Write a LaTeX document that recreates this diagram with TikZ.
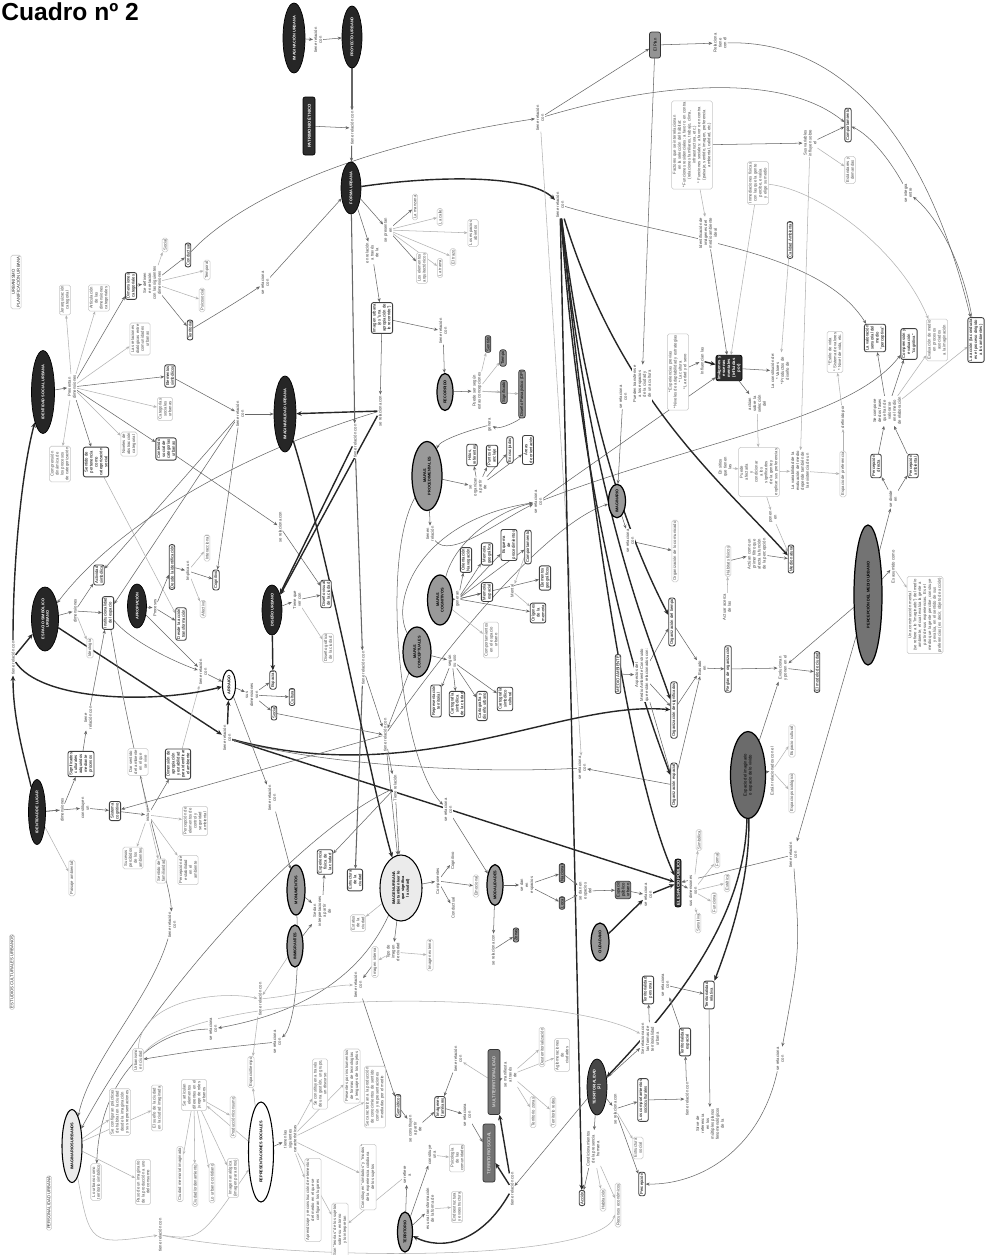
\documentclass[tikz,border=0pt]{standalone}
\usepackage{fontspec}
\setmainfont{Liberation Sans}
\usetikzlibrary{shapes.geometric,arrows.meta,backgrounds}
\newcommand{\mf}{\fontsize{2.4}{2.8}\selectfont}
\tikzset{
  mb/.style={rotate=90,align=center,inner sep=0.7pt,font=\mf},
  sz/.style 2 args={minimum height=#1*0.02cm,minimum width=#2*0.02cm},
  dk/.style={mb,ellipse,draw=black,fill=black!85,text=white,inner sep=0pt,font=\fontsize{2.2}{2.6}\selectfont\bfseries},
  gy/.style={mb,ellipse,draw=black,line width=0.7pt,fill=black!40,inner sep=0pt,font=\fontsize{2.2}{2.6}\selectfont\bfseries},
  wt/.style={mb,ellipse,draw=black,line width=0.6pt,fill=white,inner sep=0pt,font=\fontsize{2.2}{2.6}\selectfont\bfseries},
  bx/.style={mb,rectangle,rounded corners=1.2pt,draw=black!75,line width=0.5pt,fill=white},
  lb/.style={mb,rectangle,rounded corners=1pt,draw=black!22,line width=0.3pt,fill=white,text=black!70},
  gb/.style={mb,rectangle,rounded corners=1.2pt,draw=black!80,line width=0.4pt,fill=black!42},
  db/.style={mb,rectangle,rounded corners=1.2pt,draw=black,fill=black!82,text=white,font=\mf\bfseries},
  tx/.style={mb,fill=white,text=black!75,inner sep=0.4pt},
  ln/.style={draw=black!60,line width=0.3pt,-{Stealth[length=2.2pt,width=1.8pt]}},
  lt/.style={draw=black!30,line width=0.3pt,-{Stealth[length=2pt,width=1.6pt]}},
  hv/.style={draw=black!85,line width=0.8pt,-{Stealth[length=3pt,width=2.6pt]}}
}
\begin{document}
\begin{tikzpicture}[x=0.02cm,y=-0.02cm]
\useasboundingbox (0,0) rectangle (992,1255);
\node[anchor=north west,inner sep=0pt,font=\fontsize{14}{14}\selectfont\bfseries] (tit) at (1,2) {Cuadro nº 2};

% marcos
\node[lb,text=black!85] (urb) at (16,282) {URBANISMO\\PLANIFICACIÓN URBANA};
\node[lb,text=black!85] (ecu) at (12,972) {ESTUDIOS CULTURALES URBANOS};
\node[lb,text=black!85] (peu) at (49,1203) {PERSONALIDAD URBANA};

% parte superior
\node[dk,sz={22}{70}] (imu) at (294,38) {IMAGINACIÓN URBANA};
\node[tx] (t01) at (318,40) {tiene relación\\con};
\node[dk,sz={20}{62}] (pu) at (352,37) {PROYECTO URBANO};
\node[db,sz={12}{58}] (pe) at (309,126) {PATRIMONIO ÉTNICO};
\node[tx] (t02) at (352,128) {tiene relación con};
\node[dk,sz={20}{52}] (fu) at (351,188) {FORMA URBANA};
\node[tx] (t03) at (388,230) {se presentan\\en};
\node[lb] (fu1) at (415,207) {La manzana};
\node[lb] (fu2) at (440,217) {La calle};
\node[lb] (fu3) at (473,233) {Los espacios\\abiertos};
\node[lb] (fu4) at (453,257) {El trazo};
\node[lb] (fu5) at (440,268) {La trama};
\node[lb] (fu6) at (422,268) {Los elementos\\arquitectónicos};
\node[tx] (t04) at (372,253) {en relación\\a través\\de la};
\node[bx] (imgu) at (382,318) {Imagen urbana\\(es "una\\apropiación de\\lo recorrido")};
\node[tx] (t05) at (540,118) {tiene relación\\con};
\node[tx] (t06) at (560,205) {tiene relación\\con};
\node[gb,sz={11}{26}] (plan) at (655,45) {El Plan};
\node[tx] (t76) at (720,43) {Relaciona\\tiene\\con él};

% identidad social urbana
\node[dk,sz={23}{83}] (isu) at (43,392) {IDENTIDAD SOCIAL URBANA};
\node[tx] (t10) at (72,387) {Presentan\\dimensiones};
\node[lb] (is1) at (60,464) {Comprensión\\dinámica de\\los procesos\\de categorización};
\node[bx] (is2) at (96,462) {Sentido de\\pertenencia\\como\\categorización\\social};
\node[lb] (is3) at (129,444) {Niveles de\\abstracción\\categorial};
\node[bx] (is4) at (166,449) {Contenido\\social de\\categorías\\urbanas};
\node[lb] (is5) at (165,409) {Categorías\\sociales\\urbanas};
\node[bx] (is6) at (170,376) {Elementos\\simbólicos};
\node[lb] (is7) at (140,339) {Las relaciones\\dialógicas entre\\comunidades\\urbanas};
\node[bx] (is8) at (131,286) {Dimensiones\\categoriales};
\node[lb] (is9) at (99,298) {Articulación\\de las\\dimensiones\\categoriales};
\node[lb] (is10) at (65,300) {Jerarquización\\categorial};
\node[tx] (t11) at (152,283) {Se definen\\en relación\\con las siguientes\\dimensiones};
\node[lb] (dc1) at (165,245) {Social};
\node[bx] (dc2) at (188,255) {Conductual};
\node[lb] (dc3) at (207,270) {Temporal};
\node[lb] (dc4) at (202,300) {Psicosocial};
\node[bx] (dc5) at (190,330) {Territorial};
\node[tx] (t12) at (265,283) {se relaciona\\con};
\node[tx] (t13) at (240,414) {tiene relación\\con};
\node[dk,sz={22}{76}] (imb) at (285,414) {IMAGINABILIDAD URBANA};
\node[tx] (t14) at (280,527) {se relaciona con};

% espacio simbolico, apropiacion, diseño
\node[dk,sz={27}{64}] (esu) at (45,619) {ESPACIO SIMBÓLICO\\URBANO};
\node[tx] (t20) at (75,611) {dimensiones};
\node[bx] (es1) at (99,575) {Actividad\\simbólica};
\node[bx] (es2) at (108,613) {Institucionalidad\\del espacio};
\node[lb] (es3) at (90,648) {Ideología};
\node[dk,sz={19}{44}] (ap) at (137,606) {APROPIACIÓN};
\node[tx] (t22) at (155,608) {Procesos};
\node[bx] (ap1) at (172,567) {Desde la identificación};
\node[bx] (ap2) at (181,624) {Desde la acción\\transformación};
\node[tx] (t23) at (188,571) {Implica un};
\node[lb] (ap3) at (207,548) {Interaccional};
\node[bx] (ap4) at (216,580) {Cognitivo};
\node[lb] (ap5) at (203,609) {Afectivo};
\node[dk,sz={20}{50}] (du) at (272,610) {DISEÑO URBANO};
\node[tx] (t24) at (297,600) {Tiene que\\ver con};
\node[bx] (du1) at (326,594) {Diseño visual\\de la ciudad};
\node[lb] (du2) at (328,648) {Diseño gráfico\\de la ciudad};

% arraigo
\node[wt,sz={13}{30}] (arr) at (229,685) {ARRAIGO};
\node[tx] (t25) at (203,672) {tiene relación\\con};
\node[tx] (t26) at (252,695) {sus\\dimensiones\\son};
\node[bx] (ar1) at (273,680) {Espacial};
\node[bx] (ar2) at (292,697) {Cultural};
\node[bx] (ar3) at (274,713) {Social};
\node[tx] (t27) at (227,738) {tiene relación\\con};

% identidad de lugar
\node[dk,sz={17}{65}] (idl) at (37,812) {IDENTIDAD DE LUGAR};
\node[tx] (t30) at (62,810) {dimensiones};
\node[bx] (id1) at (81,764) {Significados\\culturales\\adquiridos\\mediante\\procesos};
\node[tx] (t31) at (88,718) {tiene\\relación con};
\node[tx] (t32) at (85,808) {constituyen\\un};
\node[bx] (id2) at (115,811) {Sistema\\cognitivo};
\node[lb] (id3) at (72,878) {Paisaje ambiental};
\node[tx] (t33) at (148,815) {incluye};
\node[lb] (id4) at (138,762) {Dar sentido\\del ambiente\\en el que\\se vive};
\node[bx] (id5) at (178,764) {Dimensión de\\apropiación\\y estabilidad\\para identificar\\el ambiente};
\node[lb] (id6) at (195,821) {Percepción de\\elementos de\\control y\\seguridad\\ambiental};
\node[lb] (id7) at (188,870) {Percepción de\\estabilidad\\en el\\ambiente};
\node[lb] (id8) at (161,871) {Sentido de\\familiaridad};
\node[lb] (id9) at (133,858) {Sucesos\\percibidos\\de los\\ambientes};
\node[tx] (t34) at (13,658) {tiene relación con};

% nudos centrales
\node[tx] (t40) at (385,735) {tiene relación con};
\node[tx] (t41) at (395,788) {Tiene relación};
\node[tx] (t42) at (448,810) {se relaciona\\con};
\node[tx] (t43) at (355,441) {tiene relación con};
\node[tx] (t44) at (380,411) {se relaciona con};
\node[tx] (t45) at (443,331) {tiene relación\\con};
\node[tx] (t46) at (272,798) {tiene relación\\con};
\node[tx] (t47) at (363,668) {tiene relación con};
\node[tx] (t86) at (582,768) {se relaciona\\con};

% recorrido y mapas
\node[gy,sz={16}{37}] (rec) at (445,392) {RECORRIDO};
\node[tx] (t50) at (477,391) {Puede ser según\\estas concepciones};
\node[gb] (rc1) at (488,344) {Sentido};
\node[gb] (rc2) at (503,358) {Tiempo};
\node[gb] (rc3) at (504,392) {Significado};
\node[gb] (rc4) at (522,394) {Diseño Paisajístico (DP)};
\node[tx] (t51) at (490,425) {genera};
\node[gy,sz={30}{69}] (mp) at (427,476) {MAPAS\\PROCEDIMENTALES};
\node[tx] (t52) at (478,487) {se\\organizan\\a partir\\de};
\node[bx] (mp1) at (472,455) {Hitos,\\referentes};
\node[bx] (mp2) at (492,456) {Puntos de\\anclaje};
\node[bx] (mp3) at (510,450) {Encrucijadas};
\node[bx] (mp4) at (528,450) {Áreas\\de orientación};
\node[tx] (t53) at (430,534) {tienen\\relación};
\node[tx] (t54) at (538,502) {se relaciona\\con};
\node[gy,sz={25}{50}] (mcg) at (440,600) {MAPAS\\COGNITIVOS};
\node[tx] (t55) at (458,599) {generan};
\node[bx] (mc1) at (466,560) {Orientación\\Navegación};
\node[bx] (mc2) at (487,554) {Memoria\\geográfica};
\node[bx] (mc3) at (487,592) {Memoria\\espacial};
\node[bx] (mc4) at (509,545) {Esquema\\de\\procedimientos};
\node[bx] (mc5) at (528,547) {Comportamiento};
\node[bx] (mc6) at (545,578) {Elementos\\geográficos};
\node[bx] (mc7) at (538,613) {Orígenes\\de la\\memoria};
\node[tx] (t56) at (512,591) {Mental};
\node[lb] (cmp) at (491,640) {Comportamientos\\en el espacio\\urbano};
\node[gy,sz={28}{50}] (mk) at (417,652) {MAPAS\\CONCEPTUALES};
\node[tx] (t57) at (452,661) {según\\su uso};
\node[bx] (mk1) at (436,701) {Representación\\territorial};
\node[bx] (mk2) at (457,704) {Cartografía\\simbólica\\de la ciudad};
\node[bx] (mk3) at (482,706) {Cartografía y\\diseño urbano};
\node[bx] (mk4) at (505,699) {Cartografía\\simbólico\\cultural};

% derecha centro
\node[gy,sz={17}{32}] (espa) at (617,501) {IMAGINARIO};
\node[tx] (t58) at (623,397) {se relaciona\\con};
\node[tx] (t59) at (642,384) {Pueden transferirse\\a los espacios\\de la ciudad y\\de una cultura};
\node[tx] (t60) at (630,541) {se relaciona\\con};
\node[lb] (exp) at (678,372) {* Experiencias previas\\* Niveles de adaptabilidad y estrategias\\* La cultura\\* La edad y el sexo};
\node[db] (img) at (729,368) {Imágenes y\\escenas\\mentales\\(influidas\\por)};
\node[tx] (t61) at (702,361) {Influencian las};
\node[tx] (t62) at (780,371) {La constitución de:\\* Valores\\* Productos de\\diseño de};
\node[tx] (t63) at (757,404) {actúan\\sobre la\\selección\\del};
\node[tx] (t64) at (725,467) {En sitios\\que tienen\\las};
\node[lb] (pua) at (759,472) {Puede\\afectarla\\y\\condicionar\\a los\\significados\\de la gente y\\explicar sus preferencias};
\node[tx] (t65) at (800,471) {La variabilidad de la\\evaluación del medio\\depende también de\\la existencia de un};
\node[lb] (pref) at (843,474) {Espacio de preferencia};
\node[tx] (t66) at (843,417) {definido por};
\node[lb] (evi) at (835,352) {* Estilo de vida\\* Sistema de valores\\* Nivel de vida, etc.};
\node[bx] (vs) at (875,338) {La valoración\\sensorial del\\medio\\"perceptiva"};
\node[bx] (ce) at (909,344) {Comprensión y\\evaluación\\"cognitiva"};
\node[lb] (em) at (937,340) {Evaluación de medio\\en procesos\\asociados\\a la imaginación};
\node[bx] (la) at (976,340) {La acción (la conducta\\es el proceso dirigido\\a los ambientes)};
\node[tx] (t67) at (887,411) {Se compone\\de dos fases\\que han de\\valorarse\\en el medio\\de elaboración};
\node[bx] (pd) at (876,466) {Percepción\\directa};
\node[bx] (pa) at (913,466) {Percepción\\ambiental};
\node[tx] (t68) at (893,499) {se divide\\en};
\node[gy,fill=black!55,sz={28}{140}] (pmu) at (868,595) {PERCEPCIÓN DEL MEDIO URBANO};
\node[tx] (t69) at (893,567) {Es asumido como};
\node[lb] (cm) at (925,615) {Una construcción mental\\(se refiere a lo "imaginado") del medio\\ambiente, el cual evalúa la gente a\\partir de sus experiencias. Es el\\medio que la gente percibe, construye\\y evalúa, en el sentido de sus\\preferencias (es decir, objeto de acción)};
\node[bx] (mn) at (791,559) {Medio natural};
\node[tx] (t70) at (757,554) {Actúan como un\\primer filtro que\\afecta la función\\de la percepción};
\node[lb] (hf) at (728,561) {Hábitats físicos};
\node[tx] (t71) at (773,517) {ponen\\en};
\node[lb] (oc) at (675,551) {Organización de lo comunicado};
\node[tx] (t72) at (727,607) {Actuar acerca\\de las};

% derecha arriba
\node[lb] (fac) at (692,145) {Factores que se interrelacionan\\en la selección del hábitat:\\* Funciones residenciales: a favor o en contra\\(relaciones familiares, trabajo, clima,\\infraestructura, etc.)\\* Funciones sociales: a favor o en contra\\(paisaje, sentido, imagen, preferencia\\ambiental, calidad, etc.)};
\node[bx] (comp) at (848,125) {Comportamiento};
\node[lb] (ed) at (850,170) {Estándares y\\demandas};
\node[tx] (t73) at (810,143) {Sus variables\\influyen sobre\\el};
\node[lb] (inm) at (758,183) {Inmediaciones físicas\\con las que la gente\\percibe, evalúa\\y elige su medio};
\node[bx] (cal) at (790,240) {Calidad Ambiental};
\node[tx] (t74) at (708,233) {Identificación de\\imágenes del\\medio ambiente\\ideal};
\node[tx] (t75) at (908,193) {se integra\\entre};

% organizacion y espacio publico
\node[bx] (ot) at (672,622) {Organización del tiempo};
\node[bx] (os) at (674,710) {Organización de significados};
\node[bx] (oe) at (674,785) {Organización espacial};
\node[bx] (mamb) at (618,674) {MEDIO AMBIENTE};
\node[tx] (t82) at (642,675) {Aspectos del\\Medio Ambiente Construido\\que están relacionados con:};
\node[tx] (t80) at (702,668) {Basado\\en};
\node[bx] (ro) at (728,669) {Reglas de organización};
\node[tx] (t81) at (783,668) {Evolucionan\\y ponen en el};
\node[bx] (mdc) at (817,672) {El modelo de ciudad};
\node[gy,fill=black!58,sz={35}{87},font=\mf] (gy2) at (748,775) {Espacio del imaginario\\o espacio de lo vivido};
\node[tx] (t83) at (772,771) {Están relacionados con el};
\node[lb] (ecu2) at (792,741) {Espacio cultural};
\node[lb] (eps) at (792,793) {Espacio psicológico};
\node[db] (ep) at (678,883) {EL ESPACIO PÚBLICO};
\node[tx] (t84) at (693,891) {sus dimensiones\\son};
\node[lb] (d1) at (699,840) {Simbólica};
\node[lb] (d2) at (717,860) {Formal};
\node[lb] (d3) at (727,883) {Estética};
\node[lb] (d4) at (714,903) {Funcional};
\node[lb] (d5) at (698,923) {Sensitiva};
\node[tx] (t85) at (793,855) {tiene relación\\con};

% imagen urbana
\node[wt,fill=black!8,sz={42}{66}] (imgU) at (401,888) {IMAGEN URBANA\\(es también leer lo\\que significa\\la ciudad)};
\node[bx] (campo) at (355,880) {Estructura\\de la\\ciudad};
\node[tx] (t87) at (438,881) {Componentes};
\node[tx] (t88) at (453,861) {Cognitivo};
\node[tx] (t89) at (453,908) {Conductual};
\node[lb] (emo) at (476,886) {Emocional};
\node[gy,sz={16}{40}] (mod) at (495,885) {MODALIDADES};
\node[tx] (t90) at (527,885) {se dan\\en\\espacios};
\node[gb] (nac) at (562,873) {Nacional};
\node[gb] (loc) at (562,903) {Local};
\node[tx] (t91) at (585,891) {se dan en\\espacios\\del};
\node[gb] (epu) at (623,890) {Espacio\\público\\urbano};
\node[tx] (t92) at (648,895) {se relaciona\\con};
\node[gy,sz={18}{38}] (ciu) at (600,942) {CIUDADANO};
\node[gb] (zon) at (516,935) {Zonas};
\node[tx] (t93) at (493,950) {se relaciona con};
\node[gy,sz={18}{50}] (mon) at (296,890) {MONUMENTOS};
\node[gy,sz={16}{42}] (inm2) at (295,946) {INMIGRANTES};
\node[bx] (exf) at (325,862) {Experiencia\\física de\\la ciudad};
\node[tx] (t94) at (322,911) {Se dan\\interpretaciones\\a partir\\de};
\node[lb] (esta) at (358,923) {Estatus\\de la\\ciudad};
\node[lb] (im1) at (375,962) {Imagen interna};
\node[tx] (t117) at (393,952) {Tipo de\\imagen\\de ciudad};
\node[lb] (im2) at (430,955) {Imagen externa};
\node[tx] (t102) at (172,925) {tiene relación\\con};

% imaginarios y representaciones
\node[wt,fill=black!8,sz={20}{73}] (iu) at (72,1146) {IMAGINARIOS URBANOS};
\node[lb] (lu) at (96,1182) {Lo urbano como\\territorio simbólico};
\node[lb] (sc) at (120,1112) {Se configuran prácticas\\de hábitat en la ciudad\\desde la imaginación\\y sus representaciones};
\node[lb] (uc) at (138,1060) {Urbanismo\\en ciudad};
\node[lb] (pp) at (143,1182) {Paso de un imaginario\\de la producción a uno\\del consumo};
\node[lb] (es) at (157,1108) {El sueño de la ciudad\\en la ciudad imaginada};
\node[lb] (sa) at (194,1095) {Se articulan\\elementos\\diferentes en el\\juego de roles\\urbanos};
\node[lb] (cm1) at (180,1174) {Ciudad memorial imaginada};
\node[lb] (cm2) at (195,1185) {Ciudad/ordenamiento};
\node[lb] (cm3) at (212,1183) {Lo urbano cotidiano};
\node[lb] (cm4) at (233,1178) {Imagen analógica\\(imagen para otros)};
\node[lb] (cm5) at (233,1117) {Producción/consumo};
\node[lb] (et) at (251,1072) {Espacio/tiempo};
\node[wt,sz={25}{100}] (rs) at (261,1152) {REPRESENTACIONES SOCIALES};
\node[tx] (t103) at (213,1029) {se relaciona\\con};
\node[tx] (t104) at (277,1042) {se relaciona\\con};
\node[tx] (t105) at (260,999) {tiene relación con};
\node[tx] (t106) at (290,1139) {tienen las\\siguientes\\características};
\node[tx] (t109) at (160,1235) {tiene relación con};
\node[lb] (rs1) at (320,1084) {Se constituyen a través\\de una gestión, un grupo,\\un discurso};
\node[lb] (rs2) at (313,1200) {Aprendizaje y reconstrucción de elementos\\del medio en el que se\\configuran los lugares};
\node[lb] (rs3) at (352,1076) {Presentes por instrumentos\\de formas de tecnologías\\y lenguajes de los sujetos};
\node[lb] (rs4) at (375,1097) {Se caracterizan a la producción\\de conocimientos de sentido\\común y representaciones\\mediadas por el medio};
\node[lb] (rs5) at (368,1177) {Constituyen "símbolos" y "modos"\\de la experiencia cotidiana\\de los sujetos};
\node[lb] (rs6) at (340,1230) {Son "teorías" de los sujetos\\sobre su entorno\\y lo interpretan};
\node[bx] (sem) at (398,1106) {Semióticos};
\node[tx] (t107) at (415,1129) {se constituyen\\a partir\\de};
\node[tx] (t108) at (358,985) {tiene relación\\con};
\node[bx] (ims) at (440,1107) {Imágenes\\familiares};
\node[tx] (t110) at (467,1115) {se relaciona\\con};
\node[tx] (t111) at (458,1059) {tiene relación\\con};
\node[lb] (ps) at (457,1158) {Psicología\\de las\\comunidades};
\node[lb] (en) at (457,1207) {Endoestructura\\y exoestructura};
\node[tx] (t112) at (430,1209) {es una transformación\\de la forma de};
\node[tx] (t113) at (432,1155) {constituye\\una};
\node[tx] (t114) at (407,1175) {se refiere\\a};
\node[gy,sz={15}{40}] (terr) at (405,1232) {TERRITORIO};

% territorialidad
\node[gb,fill=black!55,text=white,sz={12}{65}] (gr1) at (494,1082) {MULTITERRITORIALIDAD};
\node[gb,fill=black!55,text=white,sz={12}{58}] (gr2) at (489,1153) {TERRITORIO SOCIAL};
\node[tx] (t98) at (512,1189) {tiene relación con};
\node[tx] (t115) at (510,1075) {se manifiesta\\a través\\de};
\node[lb] (dt) at (542,1047) {Desterritorialización};
\node[lb] (ag) at (562,1055) {Aglomeraciones\\de\\ciudades};
\node[lb] (tz) at (533,1112) {Territorio zonas};
\node[lb] (tr2) at (553,1112) {Territorio redes};
\node[dk,fill=black!72,sz={20}{56}] (ctx) at (597,1087) {TERRITORIALIDAD\\(2)};
\node[bx] (acc) at (582,1198) {Acción};
\node[tx] (t96) at (593,1149) {Condicionamientos\\de la presencia\\humana};
\node[lb] (hab) at (603,1200) {Habitación};
\node[lb] (rec2) at (618,1205) {Recursos económicos};
\node[tx] (t95) at (615,1109) {se relaciona con};
\node[lb] (est) at (638,1148) {Estructura\\social};
\node[bx] (perc) at (642,1184) {Percepción};
\node[bx] (lcs) at (643,1100) {Los comportamientos\\socioculturales};
\node[tx] (t97) at (650,1039) {Se relaciona con\\las formas de\\territorialidad\\urbana};
\node[bx] (tp) at (648,990) {Territorialidad\\personal};
\node[bx] (tr) at (709,995) {Territorialidad\\relativa};
\node[bx] (te) at (685,1042) {Territorialidad\\espacial};
\node[tx] (t100) at (687,1099) {tiene relación con};
\node[tx] (t99) at (710,1124) {Sirve de\\referencia\\en los\\múltiples planos\\fenomenológicos\\de la};
\node[tx] (t116) at (665,985) {se relaciona\\con};
\node[tx] (t101) at (780,1059) {se relaciona\\con};

\begin{scope}[on background layer]
\fill[white] (0,0) rectangle (992,1255);
% arriba
\draw[ln] (imu) -- (t01); \draw[ln] (t01) -- (pu);
\draw[ln,line width=0.6pt] (pu) -- (t02); \draw[ln,line width=0.6pt] (t02) -- (fu);
\draw[ln] (pe) -- (t02);
\draw[ln] (fu) -- (t03);
\foreach \n in {fu1,fu6} \draw[ln] (t03) -- (\n);
\foreach \n in {fu2,fu3,fu4,fu5} \draw[lt] (t03) -- (\n);
\draw[ln] (fu) -- (t04); \draw[ln] (t04) -- (imgu);
\draw[hv] (fu) .. controls (440,175) and (530,175) .. (t06);
\draw[ln] (dc2) .. controls (230,210) and (330,150) .. (t05);
\draw[ln] (t05) -- (plan);
\draw[ln] (t05) .. controls (650,85) and (780,70) .. (comp);
\draw[ln] (plan) -- (t76);
\draw[ln] (t76) .. controls (850,40) and (930,150) .. (la);
\draw[ln] (plan) -- (t59);
\draw[lt] (t05) -- (t86);
% identidad social
\draw[ln] (isu) -- (t10);
\foreach \n in {is2,is4,is6,is8} \draw[ln] (t10) -- (\n);
\foreach \n in {is1,is3,is5,is7,is9,is10} \draw[lt] (t10) -- (\n);
\draw[ln] (is8) -- (t11);
\foreach \n in {dc2,dc5} \draw[ln] (t11) -- (\n);
\foreach \n in {dc1,dc3,dc4} \draw[lt] (t11) -- (\n);
\draw[ln] (dc5) .. controls (215,315) and (240,300) .. (t12); \draw[ln] (t12) -- (fu);
\draw[ln] (is6) -- (t13); \draw[ln] (t13) -- (imb);
\draw[ln] (t13) -- (es1); \draw[ln] (t13) -- (es2); \draw[ln] (t13) -- (ap4);
\draw[ln] (is4) -- (t14); \draw[ln] (t14) -- (du1);
\draw[lt] (is2) -- (ap2);
% espacio simbolico
\draw[ln] (esu) -- (t20);
\draw[ln] (t20) -- (es1); \draw[ln] (t20) -- (es2); \draw[lt] (t20) -- (es3);
\draw[ln] (ap) -- (t22); \draw[ln] (t22) -- (ap1); \draw[ln] (t22) -- (ap2);
\draw[ln] (ap1) -- (t23); \draw[ln] (t23) -- (ap4); \draw[lt] (t23) -- (ap3); \draw[lt] (t23) -- (ap5);
\draw[ln] (du) -- (t24); \draw[ln] (t24) -- (du1); \draw[lt] (t24) -- (du2);
\draw[ln] (t44) .. controls (250,450) and (120,520) .. (esu);
% arraigo
\draw[ln] (es2) .. controls (130,640) and (170,660) .. (t25); \draw[ln] (ap) -- (t25); \draw[ln] (t25) -- (arr);
\draw[ln] (arr) -- (t26); \foreach \n in {ar1,ar2,ar3} \draw[ln] (t26) -- (\n);
\draw[hv] (du) -- (ar1);
\draw[hv] (esu) -- (t27); \draw[hv] (t27) -- (arr);
\draw[hv] (t27) -- (ep);
\draw[hv] (t27) .. controls (420,790) and (560,700) .. (os);
\draw[ln] (oe) -- (t86); \draw[ln] (t86) .. controls (450,775) and (300,760) .. (t27);
% identidad de lugar
\draw[ln] (idl) -- (t30); \draw[ln] (t30) -- (id1); \draw[lt] (idl) -- (id3);
\draw[ln] (idl) -- (t32); \draw[ln] (t32) -- (id2);
\draw[ln] (id2) -- (t33); \draw[ln] (t33) -- (id5);
\foreach \n in {id4,id6,id7,id8,id9} \draw[lt] (t33) -- (\n);
\draw[ln] (id1) -- (t31); \draw[ln] (t31) -- (es2);
\draw[lt] (id5) -- (t25);
\draw[hv] (idl) .. controls (25,760) and (13,720) .. (t34);
\draw[hv] (t34) .. controls (13,560) and (22,470) .. (isu);
\draw[hv] (t34) -- (esu);
\draw[hv] (t34) .. controls (40,700) and (150,705) .. (arr);
% nudos centrales
\draw[ln] (imgu) -- (t44); \draw[hv] (t44) -- (imb);
\draw[ln] (imgu) -- (t45); \draw[ln] (t45) -- (rec);
\draw[ln,line width=0.6pt] (fu) -- (t43); \draw[ln,line width=0.6pt] (t43) -- (t47); \draw[ln,line width=0.6pt] (t47) -- (campo);
\draw[hv] (t43) -- (du); \draw[hv] (t44) -- (du);
\draw[hv] (imb) .. controls (330,560) and (370,780) .. (imgU);
\draw[ln] (t47) -- (t40); \draw[ln] (t40) -- (id2); \draw[ln] (t40) -- (imgU);
\draw[ln] (mk) -- (t40); \draw[ln] (ar3) -- (t40); \draw[ln] (t40) -- (t41);
\draw[ln] (t41) -- (exf); \draw[ln] (t41) -- (imgU);
\draw[ln] (t40) .. controls (480,600) and (560,520) .. (espa);
\draw[ln] (mp) .. controls (380,560) and (400,760) .. (t42); \draw[ln] (t42) -- (mod);
\draw[ln] (arr) -- (t46); \draw[ln] (t46) -- (mon);
% mapas
\draw[ln] (rec) -- (t50);
\foreach \n in {rc1,rc2,rc3,rc4} \draw[lt] (t50) -- (\n);
\draw[ln] (rc4) .. controls (520,420) and (500,430) .. (t51); \draw[ln] (t51) .. controls (470,430) and (440,440) .. (mp);
\draw[ln] (mp) -- (t52);
\foreach \n in {mp1,mp2,mp3,mp4} \draw[ln] (t52) -- (\n);
\draw[ln] (mp) .. controls (430,520) .. (t53);
\draw[ln] (t53) .. controls (450,560) and (500,520) .. (t54);
\draw[ln] (mcg) .. controls (455,540) and (500,510) .. (t54);
\draw[ln] (mk) .. controls (390,600) and (420,520) .. (t54);
\draw[ln] (mcg) -- (t55);
\foreach \n in {mc1,mc2,mc3,mc4,mc5,mc6,mc7} \draw[ln] (t55) -- (\n);
\draw[lt] (mc5) -- (t56); \draw[lt] (t56) -- (mc7);
\draw[lt] (mcg) -- (cmp);
\draw[ln] (mk) -- (t57);
\foreach \n in {mk1,mk2,mk3,mk4} \draw[ln] (t57) -- (\n);
% derecha
\draw[ln] (t54) -- (img);
\draw[ln] (t54) .. controls (700,440) and (850,420) .. (ce);
\draw[ln] (t58) -- (espa); \draw[ln] (espa) -- (t60); \draw[ln] (t60) -- (oc);
\draw[ln] (fac) -- (t73); \draw[ln] (t73) -- (comp); \draw[lt] (t73) -- (ed);
\draw[lt] (fac) -- (t74); \draw[ln] (t74) -- (img);
\draw[lt] (inm) -- (img); \draw[lt] (cal) -- (t62);
\draw[lt] (t73) -- (t65);
\draw[lt] (inm) .. controls (820,190) and (900,250) .. (em);
\draw[ln] (t06) .. controls (680,240) and (820,250) .. (vs);
\draw[ln] (la) .. controls (960,250) and (930,210) .. (t75);
\draw[ln] (t75) .. controls (890,160) and (870,135) .. (comp);
\draw[ln] (exp) -- (t61); \draw[hv] (t61) -- (img);
\draw[ln] (img) -- (t62); \draw[ln] (img) -- (t63); \draw[lt] (t63) -- (pua);
\draw[lt] (t64) -- (pua); \draw[lt] (pua) -- (t65); \draw[lt] (t65) -- (pref);
\draw[lt] (pref) -- (t66); \draw[lt] (t66) -- (evi);
\draw[ln] (hf) -- (t70); \draw[ln] (t70) -- (mn); \draw[lt] (pua) -- (t71); \draw[lt] (t71) -- (mn);
\draw[lt] (t72) -- (hf);
\draw[ln] (pmu) -- (t69); \draw[lt] (t69) -- (cm);
\draw[ln] (pmu) -- (t68); \draw[ln] (t68) -- (pd); \draw[ln] (t68) -- (pa);
\draw[ln] (pd) -- (t67); \draw[ln] (pa) -- (t67);
\draw[ln] (t67) -- (vs); \draw[ln] (t67) -- (ce); \draw[lt] (t67) -- (em); \draw[lt] (t67) -- (la);
\draw[ln] (pmu) -- (t81);
\draw[ln] (pmu) -- (t85); \draw[ln] (t85) -- (ep);
% organizacion
\draw[ln] (mamb) -- (t82);
\foreach \n in {ot,os,oe} \draw[ln] (t82) -- (\n);
\foreach \n in {ot,os,oe} \draw[ln] (\n) -- (t80);
\draw[ln] (t80) -- (ro); \draw[ln] (ro) -- (t81); \draw[ln] (t81) -- (mdc);
\draw[ln] (gy2) -- (t81); \draw[ln] (gy2) -- (t83);
\draw[lt] (t83) -- (ecu2); \draw[lt] (t83) -- (eps);
\draw[ln] (ep) -- (t84);
\foreach \n in {d1,d2,d3,d4,d5} \draw[lt] (t84) -- (\n);
\draw[hv] (t06) -- (acc);
\draw[hv] (t06) .. controls (590,450) and (640,560) .. (ot);
\draw[hv] (t06) .. controls (590,500) and (650,640) .. (os);
\draw[hv] (t06) .. controls (585,550) and (650,720) .. (oe);
\draw[hv] (t06) .. controls (600,600) and (640,800) .. (ep);
\draw[hv] (t06) .. controls (620,400) and (720,480) .. (mn);
\draw[hv] (gy2) .. controls (745,900) and (700,980) .. (ctx);
\draw[hv] (gy2) .. controls (750,880) and (730,940) .. (tr);
% imagen urbana
\draw[ln] (imgU) -- (t87); \draw[ln] (t87) -- (t88); \draw[ln] (t87) -- (t89); \draw[ln] (t87) -- (emo);
\draw[ln] (imgU) -- (t117); \draw[lt] (t117) -- (im1); \draw[lt] (t117) -- (im2);
\draw[lt] (imgU) -- (esta);
\draw[ln] (mod) -- (t90); \draw[ln] (t90) -- (nac); \draw[ln] (t90) -- (loc);
\draw[ln] (nac) -- (t91); \draw[ln] (loc) -- (t91); \draw[ln] (t91) -- (epu);
\draw[ln] (epu) -- (t92);
\draw[hv] (ciu) -- (t92); \draw[hv] (t92) -- (ep);
\draw[ln] (mod) -- (t93); \draw[ln] (t93) -- (zon);
\draw[ln] (mon) -- (t94); \draw[ln] (inm2) -- (t94); \draw[ln] (t94) -- (exf);
% imaginarios urbanos
\draw[ln] (es2) .. controls (140,800) and (170,880) .. (t102);
\draw[ln] (t102) .. controls (150,1000) and (90,1060) .. (iu);
\draw[ln] (t41) .. controls (300,830) and (150,1000) .. (iu);
\draw[ln] (imgU) .. controls (350,1000) and (260,1020) .. (t103);
\draw[ln] (t103) .. controls (150,1030) and (100,1080) .. (lu);
\draw[ln] (mon) .. controls (300,1000) and (290,1030) .. (t104);
\draw[ln] (t104) .. controls (200,1050) .. (uc);
\draw[lt] (inm2) -- (t105); \draw[lt] (t105) -- (et);
\draw[lt] (uc) .. controls (140,1000) and (220,990) .. (t105);
\draw[lt] (t105) .. controls (300,995) and (330,985) .. (t108);
\draw[lt] (uc) .. controls (200,985) and (560,990) .. (t97);
\foreach \n in {sc,pp,es} \draw[lt] (iu) -- (\n);
\draw[lt] (iu) .. controls (90,1245) .. (t109);
\draw[lt] (t109) .. controls (200,1240) .. (rs);
\draw[lt] (t109) .. controls (300,1262) and (600,1262) .. (rec2);
\draw[lt] (rs) -- (sa); \draw[lt] (rs) -- (et);
\foreach \n in {cm1,cm2,cm3,cm4,cm5} \draw[lt] (sa) -- (\n);
\draw[ln] (rs) -- (t106);
\foreach \n in {rs1,rs2,rs3,rs4,rs5,rs6} \draw[lt] (t106) -- (\n);
\draw[ln] (im1) -- (t108); \draw[ln] (t108) -- (sem);
\draw[ln] (sem) -- (t107); \draw[ln] (t107) -- (ims);
\draw[ln] (ims) -- (t110); \draw[ln] (t110) -- (gr2);
\draw[ln] (t111) -- (ims); \draw[lt] (gr1) -- (t111);
\draw[ln] (terr) -- (t112); \draw[lt] (t112) -- (en);
\draw[ln] (terr) -- (t113); \draw[lt] (t113) -- (ps);
\draw[ln] (terr) -- (t114); \draw[lt] (t114) -- (rs6);
% territorialidad
\draw[ln] (gr1) -- (t115);
\foreach \n in {dt,ag,tz,tr2} \draw[lt] (t115) -- (\n);
\draw[hv] (t98) -- (gr1); \draw[hv] (t98) -- (gr2);
\draw[hv] (t98) .. controls (480,1245) and (440,1250) .. (terr);
\draw[ln] (ctx) -- (t98);
\draw[ln] (ctx) -- (t95);
\draw[ln] (t95) -- (lcs); \draw[lt] (t95) -- (est); \draw[ln] (t95) -- (perc);
\draw[ln] (ctx) -- (t96);
\draw[ln] (t96) -- (acc); \draw[lt] (t96) -- (hab); \draw[lt] (t96) -- (rec2);
\draw[ln] (ctx) -- (t97); \draw[ln] (t97) -- (tp);
\draw[ln] (te) -- (t116); \draw[ln] (t116) -- (tr);
\draw[ln] (t100) -- (te); \draw[ln] (lcs) -- (t100);
\draw[ln] (tr) -- (t99);
\draw[ln] (t85) .. controls (800,950) .. (t101);
\draw[ln] (t101) .. controls (760,1150) and (700,1185) .. (perc);
\end{scope}
\end{tikzpicture}
\end{document}
